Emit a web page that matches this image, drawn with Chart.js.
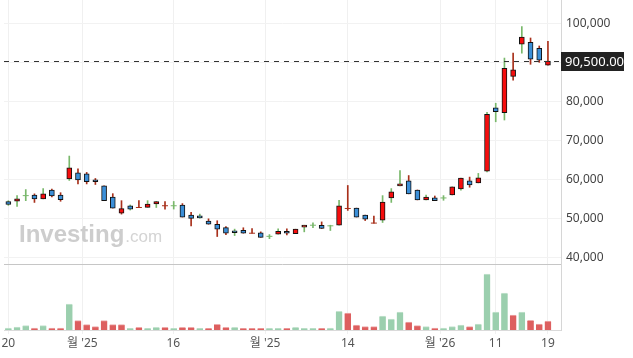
<!DOCTYPE html>
<html>
<head>
<meta charset="utf-8">
<script src="https://cdn.jsdelivr.net/npm/chart.js@4.4.1/dist/chart.umd.min.js"></script>
<style>
  html, body { margin: 0; padding: 0; background: #fff; }
  #wrap { width: 633px; height: 358px; position: relative; }
</style>
</head>
<body>
<div id="wrap"><canvas id="chart"></canvas></div>
<script>
// Weekly candles, oldest first
const opens = [54400, 54550, 55950, 56100, 55100, 57400, 56100, 60250, 61800, 61550,
  59600, 58450, 55600, 51450, 53300, 52900, 52950, 53800, 53350, 53350,
  53550, 50950, 50400, 49400, 48600, 47750, 46500, 47050, 46300, 46400,
  45500, 46050, 46800, 46200, 47850, 48350, 48350, 48200, 48350, 52650,
  52750, 50950, 48900, 49650, 55350, 58450, 59750, 57400, 54850, 55350,
  55350, 56100, 57650, 59750, 59200, 62250, 78450, 77250, 86550, 94800,
  95300, 93750, 89400];
const highs = [54650, 55950, 57500, 56400, 57750, 57600, 56700, 66100, 62850, 61900,
  60350, 58450, 56450, 54650, 53550, 54650, 54650, 54450, 54450, 54450,
  53900, 51650, 51200, 50000, 49500, 48000, 47350, 47700, 47500, 46650,
  45950, 47400, 47400, 47350, 48350, 48950, 49200, 48350, 54750, 58550,
  52750, 50950, 50700, 55950, 57750, 62400, 61100, 57400, 56100, 55850,
  55950, 58200, 60450, 60700, 61650, 77350, 79650, 91250, 92500, 99300,
  96400, 94350, 95550];
const lows = [53450, 53200, 54650, 54200, 55100, 55600, 54500, 59850, 58950, 58950,
  58800, 54650, 52750, 51200, 52250, 52900, 52950, 52900, 52500, 52500,
  50450, 48200, 50150, 48600, 45450, 45950, 45700, 46300, 46300, 45250,
  44900, 46050, 45850, 46200, 46650, 47750, 47500, 47000, 48350, 52150,
  50450, 49550, 48900, 49050, 54200, 58450, 56400, 54850, 54850, 54650,
  54750, 56100, 57350, 58100, 59200, 62050, 74900, 75350, 85600, 92500,
  89650, 90150, 89400];
const closes = [53700, 55150, 55950, 55100, 56400, 55850, 54900, 63100, 60000, 59500,
  59500, 54650, 52750, 52600, 52450, 52900, 53800, 54400, 53350, 53350,
  50450, 50100, 50250, 48600, 47350, 46300, 46430, 46300, 46300, 45250,
  45500, 46800, 46300, 47350, 48350, 48350, 47500, 48200, 53300, 52650,
  50450, 49900, 48900, 54300, 56900, 58950, 56400, 54850, 55600, 54650,
  55350, 58200, 60450, 58700, 60500, 76800, 77500, 88600, 88200, 96650,
  90950, 90700, 90500];
// volume in thousands of shares
const volumes = [100, 150, 215, 100, 215, 100, 100, 1300, 465, 265,
  165, 465, 265, 265, 85, 135, 85, 135, 135, 85,
  135, 135, 85, 85, 285, 135, 135, 85, 85, 85,
  85, 85, 85, 135, 85, 85, 85, 100, 935, 850,
  250, 165, 165, 700, 550, 900, 400, 215, 165, 100,
  100, 165, 250, 165, 300, 2800, 900, 1850, 750, 900,
  485, 300, 450];
// 1 = week closed up (green), 0 = down (red)
const volUp = [1, 1, 1, 0, 1, 0, 0, 1, 0, 0,
  0, 0, 0, 0, 1, 0, 1, 1, 0, 1,
  0, 0, 1, 0, 0, 0, 1, 0, 0, 0,
  1, 1, 0, 1, 1, 1, 0, 1, 1, 0,
  0, 0, 0, 1, 1, 1, 0, 0, 1, 0,
  1, 1, 1, 0, 1, 1, 1, 1, 0, 1,
  0, 0, 0];

// x axis ticks (in candle index units) and their labels
const tickPos = [0, 8.5, 18.95, 29.5, 39, 49.6, 56, 62];
const tickLabels = ['20', "월 '25", '16', "월 '25", '14', "월 '26", '11', '19'];
const priceTicks = [40000, 50000, 60000, 70000, 80000, 90000, 100000];
const lastPrice = 90500;

const BODY_UP = '#f50d0d';
const BODY_DOWN = '#3b8fd8';
const WICK_UP = '#79b86b';
const WICK_DOWN = '#a8301b';
const VOL_UP = '#9bcfae';
const VOL_UP_CAP = '#c4e3cf';
const VOL_DOWN = '#dd5f5f';
const VOL_DOWN_CAP = '#eeaaaa';
const FONT = "'Noto Sans', 'Noto Sans CJK KR', sans-serif";

const idx = closes.map((_, i) => i);
const isDoji = (i) => opens[i] === closes[i];

// the right axes take a fixed strip and reserve no room above/below their labels
const fitRightAxis = (scale) => {
  scale.width = 72;
  scale.paddingTop = 0;
  scale.paddingBottom = 0;
};

// watermark under the candles
const watermark = {
  id: 'watermark',
  beforeDatasetsDraw(chart) {
    const ctx = chart.ctx;
    ctx.save();
    ctx.textBaseline = 'alphabetic';
    ctx.fillStyle = '#cdcdcd';
    ctx.font = "bold 24px 'Liberation Sans', Arial, sans-serif";
    ctx.fillText('Investing', 19, 242);
    const w = ctx.measureText('Investing').width;
    ctx.fillStyle = '#d4d4d4';
    ctx.font = "17px 'Liberation Sans', Arial, sans-serif";
    ctx.fillText('.com', 19 + w + 1, 242);
    ctx.restore();
  }
};

// pane separator, last price line and price box
const overlay = {
  id: 'overlay',
  afterDraw(chart) {
    const ctx = chart.ctx;
    const area = chart.chartArea;
    const y = chart.scales.y;
    const v = chart.scales.y2;
    ctx.save();

    ctx.strokeStyle = '#c6c6c6';
    ctx.lineWidth = 1;
    ctx.beginPath();
    ctx.moveTo(area.left, Math.round(v.top) + 0.5);
    ctx.lineTo(area.right, Math.round(v.top) + 0.5);
    ctx.stroke();

    const py = Math.round(y.getPixelForValue(lastPrice)) + 0.5;
    ctx.strokeStyle = '#333';
    ctx.setLineDash([5, 5]);
    ctx.beginPath();
    ctx.moveTo(area.left, py);
    ctx.lineTo(area.right, py);
    ctx.stroke();
    ctx.setLineDash([]);

    ctx.fillStyle = '#222';
    ctx.fillRect(area.right, py - 9.5, 63, 19);
    ctx.fillStyle = '#fff';
    ctx.font = '13px ' + FONT;
    ctx.textAlign = 'left';
    ctx.textBaseline = 'middle';
    ctx.fillText(lastPrice.toLocaleString('en-US', { minimumFractionDigits: 2 }), area.right + 4, py + 1);
    ctx.restore();
  }
};

new Chart(document.getElementById('chart'), {
  type: 'bar',
  data: {
    datasets: [
      {
        label: 'wick',
        order: 3,
        grouped: false,
        barThickness: 1,
        data: idx.map((i) => ({ x: i, y: [lows[i], highs[i]] })),
        backgroundColor: idx.map((i) => volUp[i] ? WICK_UP : WICK_DOWN),
        yAxisID: 'y'
      },
      {
        label: 'body',
        order: 2,
        grouped: false,
        barThickness: 5,
        minBarLength: 2,
        borderWidth: 1,
        borderSkipped: false,
        borderColor: '#111',
        data: idx.filter((i) => !isDoji(i)).map((i) => ({ x: i, y: [opens[i], closes[i]] })),
        backgroundColor: (c) => (c.raw && c.raw.y[1] > c.raw.y[0]) ? BODY_UP : BODY_DOWN,
        yAxisID: 'y'
      },
      {
        type: 'scatter',
        label: 'doji',
        order: 1,
        data: idx.filter(isDoji).map((i) => ({ x: i, y: closes[i] })),
        pointStyle: 'line',
        radius: 3,
        borderWidth: 1,
        borderColor: (c) => (c.raw && volUp[c.raw.x]) ? WICK_UP : WICK_DOWN,
        yAxisID: 'y'
      },
      {
        label: 'volume',
        order: 4,
        grouped: false,
        barThickness: 6.5,
        data: idx.map((i) => ({ x: i, y: volumes[i] })),
        backgroundColor: idx.map((i) => volUp[i] ? VOL_UP : VOL_DOWN),
        borderColor: idx.map((i) => volUp[i] ? VOL_UP_CAP : VOL_DOWN_CAP),
        borderWidth: { top: 1, right: 0, bottom: 0, left: 0 },
        yAxisID: 'y2'
      }
    ]
  },
  options: {
    responsive: true,
    maintainAspectRatio: false,
    animation: false,
    devicePixelRatio: 1,
    layout: { autoPadding: false, padding: { left: 4, top: 0, right: 0, bottom: 0 } },
    plugins: {
      legend: { display: false },
      tooltip: { enabled: false }
    },
    scales: {
      x: {
        type: 'linear',
        offset: false,
        min: -0.5,
        max: 63.5,
        afterBuildTicks: (scale) => {
          scale.ticks = tickPos.map((v) => ({ value: v }));
        },
        afterFit: (scale) => {
          scale.height = 28;
          scale.paddingLeft = 0;
          scale.paddingRight = 0;
        },
        grid: { color: '#f0f0f0', tickLength: 4, offset: false },
        border: { color: '#dadada' },
        ticks: {
          autoSkip: false,
          maxRotation: 0,
          padding: 2,
          color: '#555',
          font: { family: FONT, size: 12 },
          callback: (v, i) => tickLabels[i]
        }
      },
      y: {
        position: 'right',
        stack: 'pane',
        stackWeight: 4,
        min: 38400,
        max: 106150,
        afterBuildTicks: (scale) => {
          scale.ticks = priceTicks.map((v) => ({ value: v }));
        },
        afterFit: fitRightAxis,
        grid: { color: '#f2f2f2', drawTicks: false },
        border: { color: '#d6d6d6' },
        ticks: {
          padding: 5,
          color: '#444',
          font: { family: FONT, size: 12 },
          callback: (v) => v.toLocaleString('en-US')
        }
      },
      y2: {
        position: 'right',
        stack: 'pane',
        stackWeight: 1,
        min: 0,
        max: 3300,
        afterFit: fitRightAxis,
        grid: { display: false },
        border: { color: '#d6d6d6' },
        ticks: { display: false }
      }
    }
  },
  plugins: [watermark, overlay]
});
</script>
</body>
</html>
